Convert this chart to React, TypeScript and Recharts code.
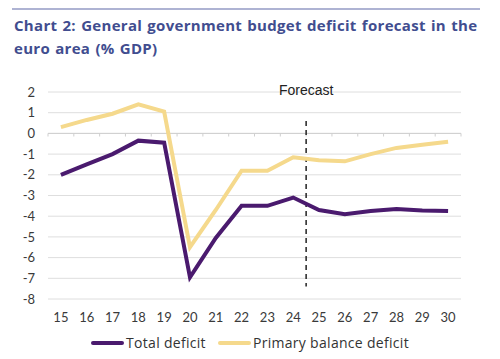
import { CartesianGrid, Legend, Line, LineChart, ReferenceLine, XAxis, YAxis } from 'recharts'

const years = [15, 16, 17, 18, 19, 20, 21, 22, 23, 24, 25, 26, 27, 28, 29, 30]
const totalDeficit = [-2.0, -1.5, -1.0, -0.35, -0.45, -6.95, -5.05, -3.5, -3.5, -3.1, -3.7, -3.9, -3.75, -3.65, -3.72, -3.75]
const primaryDeficit = [0.3, 0.65, 0.95, 1.4, 1.05, -5.5, -3.7, -1.8, -1.8, -1.15, -1.3, -1.35, -1.0, -0.7, -0.55, -0.4]
const yTicks = [-8, -7, -6, -5, -4, -3, -2, -1, 0, 1, 2]
const zeroTicks = [14.5, 15.5, 16.5, 17.5, 18.5, 19.5, 20.5, 21.5, 22.5, 23.5, 24.5, 25.5, 26.5, 27.5, 28.5, 29.5, 30.5]
const forecastStart = 24.5

const PURPLE = '#4a1a6e'
const YELLOW = '#f5d98c'
const TITLE = '#414d8f'

const chartData = years.map((y, i) => ({
  year: y,
  total: totalDeficit[i],
  primary: primaryDeficit[i],
}))

const legendItems = [
  { name: 'Total deficit', color: PURPLE },
  { name: 'Primary balance deficit', color: YELLOW },
]

function ChartLegend() {
  return (
    <div
      style={{
        display: 'flex',
        justifyContent: 'center',
        gap: 12,
        fontFamily: '"Open Sans", sans-serif',
        fontSize: 14,
        letterSpacing: 0.3,
        lineHeight: '17px',
        color: '#333',
      }}
    >
      {legendItems.map((item) => (
        <div key={item.name} style={{ display: 'flex', alignItems: 'center' }}>
          <span style={{ display: 'inline-block', width: 33, height: 4, borderRadius: 2, background: item.color, marginRight: 2 }} />
          {item.name}
        </div>
      ))}
    </div>
  )
}

export default function App() {
  return (
    <div style={{ position: 'absolute', left: 0, top: 0, width: 500, height: 359, background: '#fff' }}>
      <div style={{ position: 'absolute', left: 12, top: 8, width: 468, height: 2, background: '#aeb3d3' }} />
      <div
        style={{
          position: 'absolute',
          left: 14,
          top: 14,
          width: 480,
          fontFamily: '"Open Sans", sans-serif',
          fontWeight: 700,
          fontSize: 15,
          lineHeight: '23px',
          color: TITLE,
          letterSpacing: 0.3,
          wordSpacing: 1,
        }}
      >
        Chart 2: General government budget deficit forecast in the
        <br />
        euro area (% GDP)
      </div>
      <div style={{ position: 'absolute', left: 0, top: 0 }}>
        <LineChart width={500} height={359} data={chartData} margin={{ top: 92, right: 39, bottom: 0, left: 0 }}>
          <CartesianGrid vertical={false} stroke="#dedede" strokeWidth={1} />
          <XAxis
            dataKey="year"
            type="number"
            domain={[14.5, 30.5]}
            ticks={years}
            interval={0}
            axisLine={false}
            tickLine={false}
            tickSize={0}
            tickMargin={14}
            height={43}
            tick={{ fontSize: 13, fill: '#3a3a3a', fontFamily: 'Lato, sans-serif' }}
          />
          <YAxis
            type="number"
            domain={[-8, 2]}
            ticks={yTicks}
            interval={0}
            axisLine={false}
            tickLine={false}
            tickSize={0}
            tickMargin={13}
            width={48}
            tick={{ fontSize: 13, fill: '#3a3a3a', fontFamily: 'Lato, sans-serif' }}
          />
          <ReferenceLine y={0} stroke="#cfcfcf" strokeWidth={1} />
          {zeroTicks.map((t) => (
            <ReferenceLine
              key={t}
              segment={[
                { x: t, y: 0 },
                { x: t, y: -0.15 },
              ]}
              stroke="#cfcfcf"
              strokeWidth={1}
            />
          ))}
          <ReferenceLine
            segment={[
              { x: forecastStart, y: 0.6 },
              { x: forecastStart, y: -7.4 },
            ]}
            stroke="#222"
            strokeWidth={1.5}
            strokeDasharray="5 4"
            label={{ value: 'Forecast', position: 'top', offset: 26, fill: '#222', fontSize: 14, fontFamily: '"Liberation Sans", Arial, sans-serif' }}
          />
          <Line type="linear" dataKey="primary" name="Primary balance deficit" stroke={YELLOW} strokeWidth={4} dot={false} isAnimationActive={false} />
          <Line type="linear" dataKey="total" name="Total deficit" stroke={PURPLE} strokeWidth={4} dot={false} isAnimationActive={false} />
          <Legend content={<ChartLegend />} wrapperStyle={{ top: 334, left: 0, width: 500 }} />
        </LineChart>
      </div>
    </div>
  )
}
